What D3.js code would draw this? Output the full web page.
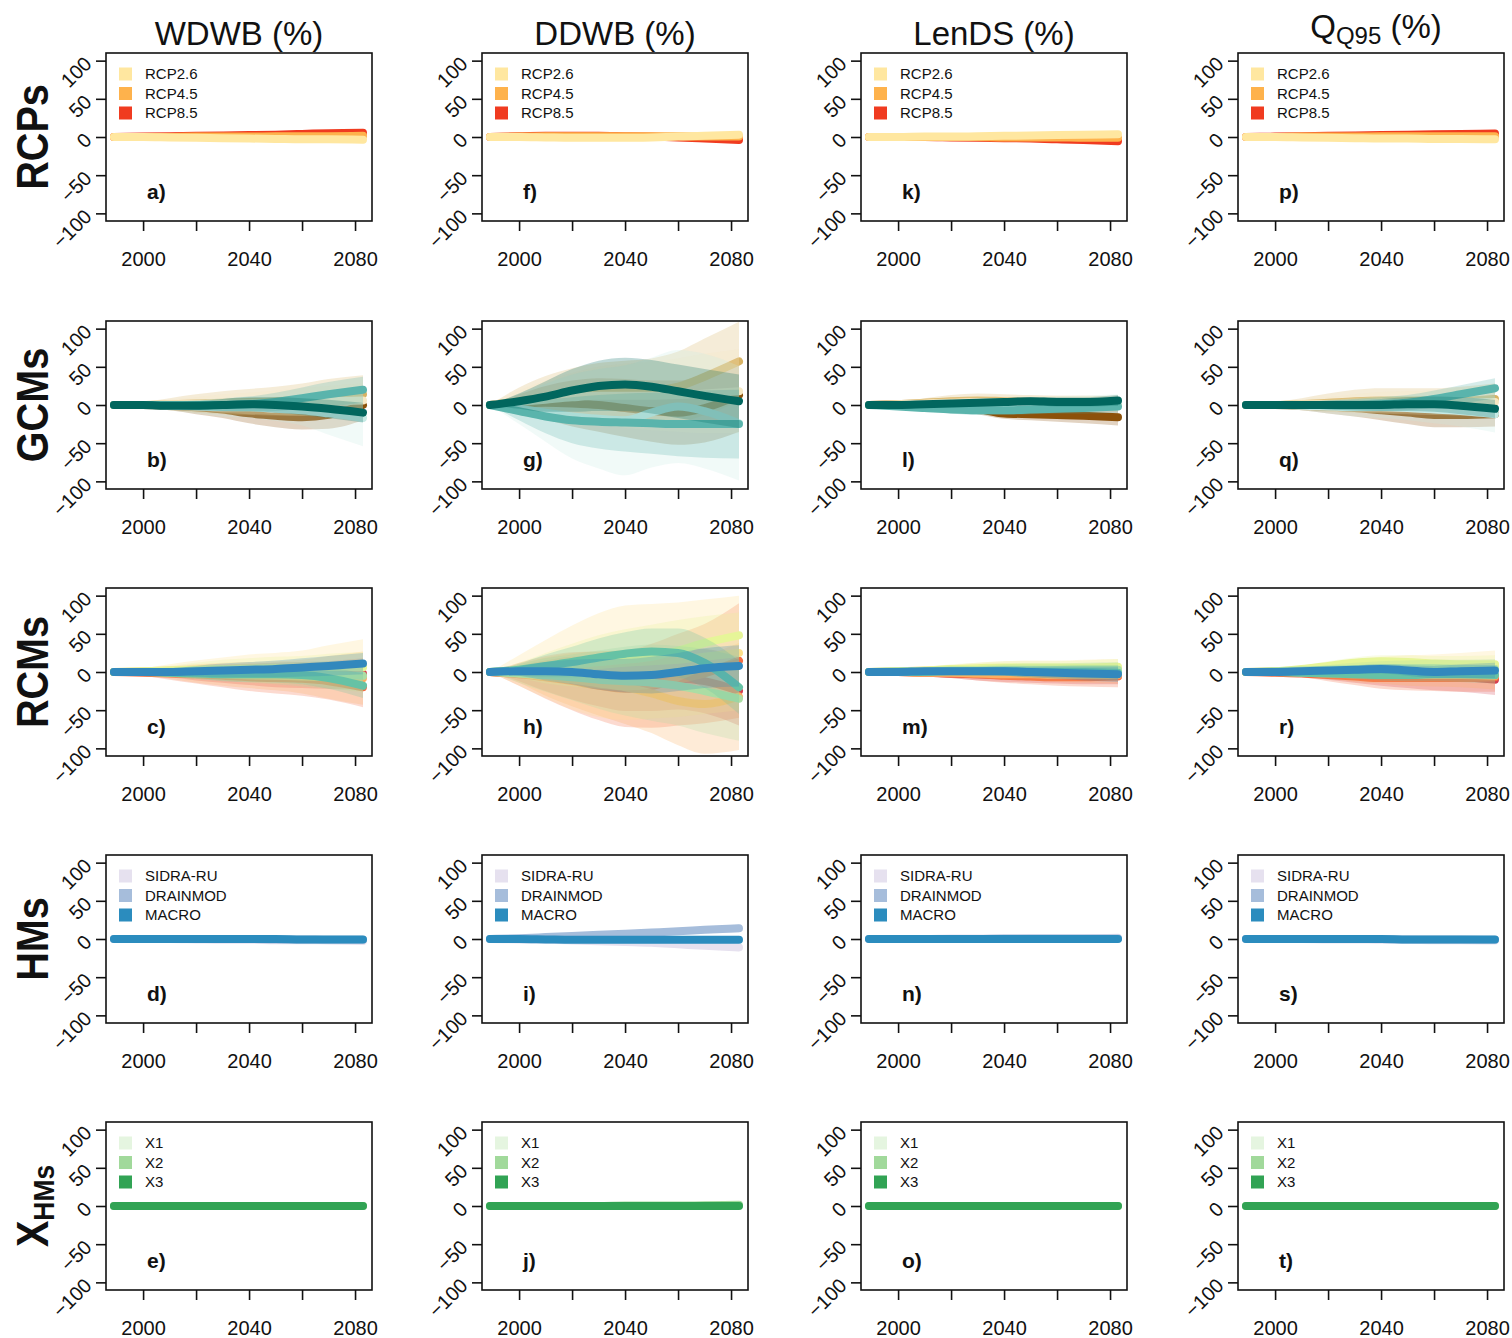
<!DOCTYPE html>
<html><head><meta charset="utf-8">
<script src="https://cdn.jsdelivr.net/npm/d3@7"></script>
<style>
body{margin:0;background:#fff}
svg{display:block}
text{font-family:"Liberation Sans",Arial,Helvetica,sans-serif;fill:#111}
</style>
</head><body>
<svg id="c" width="1512" height="1338"></svg>
<script>
// ---------- shared axes / labels ----------
const years = [1989, 2000, 2010, 2020, 2030, 2040, 2050, 2060, 2070, 2083];
const xTicks = [2000, 2020, 2040, 2060, 2080];
const xLabels = [2000, 2040, 2080];
const yTicks = [-100, -50, 0, 50, 100];
const columnTitles = ["WDWB (%)", "DDWB (%)", "LenDS (%)", "Q_Q95 (%)"];
const rowLabels = ["RCPs", "GCMs", "RCMs", "HMs", "X_HMs"];
const panelLetters = [["a)","f)","k)","p)"],["b)","g)","l)","q)"],["c)","h)","m)","r)"],["d)","i)","n)","s)"],["e)","j)","o)","t)"]];

// ---------- series names / colours ----------
const rcpNames = ["RCP2.6", "RCP4.5", "RCP8.5"];
const rcpColors = ["#FFE7A0", "#FEB24C", "#F03B20"];
const gcmColors = ["#8C510A", "#D8B365", "#F6E8C3", "#C7EAE5", "#5AB4AC", "#01665E"];
const rcmColors = ["#D53E4F", "#F46D43", "#FDAE61", "#FEE08B", "#E6F598", "#ABDDA4", "#66C2A5", "#3288BD"];
const hmNames = ["SIDRA-RU", "DRAINMOD", "MACRO"];
const hmColors = ["#E6E1EF", "#A6BDDB", "#2B8CBE"];
const xhmNames = ["X1", "X2", "X3"];
const xhmColors = ["#E5F5E0", "#A1D99B", "#31A354"];

// ---------- RCPs row (a, f, k, p) ----------
const a_mean = [[0,0,-0.5,-1,-1.5,-2,-2.5,-3,-3,-3.5],[0,0,0,0.5,0.5,0.5,1,1,1,1.5],[0,0.5,1,1.5,2,2.5,3,4,5,5.5]];
const a_spread = [[0,0.5,1,1,1.5,1.5,2,2,2.5,3],[0,0.5,1,1,1.5,1.5,2,2,2.5,3],[0,0.5,1,1.5,1.5,2,2,2.5,3,3]];
const f_mean = [[0,0,-0.5,-1,-1,-1,-0.5,0.5,1.5,3],[0,0.5,1,1,1,1,1,1,0.5,0.5],[0,1,1.5,1.5,1.5,1,0.5,-0.5,-2,-4]];
const f_spread = [[0,0.5,1,1,1.5,1.5,2,2,2.5,3],[0,0.5,1,1,1.5,1.5,2,2,2.5,3],[0,0.5,1,1.5,1.5,2,2,2.5,3,3]];
const k_mean = [[0,0,0.5,0.5,1,1.5,2,2.5,3,3.5],[0,0,0,0,0,-0.5,-0.5,-0.5,-1,-1],[0,0,0,-0.5,-1,-1.5,-2,-3,-4,-5.5]];
const k_spread = [[0,0.5,1,1,1.5,1.5,2,2,2.5,3],[0,0.5,1,1,1.5,1.5,2,2,2.5,3],[0,0.5,1,1.5,1.5,2,2,2.5,3,3]];
const p_mean = [[0,0,-0.5,-1,-1.5,-2,-2,-2.5,-2.5,-3],[0,0,0.5,0.5,0.5,1,1,1,1,1],[0,0.5,1,1.5,2,2.5,3,3.5,4,4.5]];
const p_spread = [[0,0.5,1,1,1.5,1.5,2,2,2.5,3],[0,0.5,1,1,1.5,1.5,2,2,2.5,3],[0,0.5,1,1.5,1.5,2,2,2.5,3,3]];

// ---------- GCMs row (b, g, l, q) ----------
const b_mean = [[0,0,-1,-3,-6,-11,-14,-16,-13,0],[0,0,1,2,3,4,5,7,10,14],[0,0,1,1,2,2,3,4,5,6],[0,0,-1,-2,-3,-3,-5,-7,-11,-17],[0,0,0,0,0,1,4,9,14,20],[0,0,-1,-1,0,1,0,-2,-5,-10]];
const b_spread = [[0,3,6,9,11,13,15,16,18,20],[0,4,8,12,15,17,19,21,24,25],[0,3,6,9,12,14,16,18,20,22],[0,3,6,9,12,14,16,20,28,37],[0,2,4,6,8,10,12,14,16,17],[0,2,4,6,8,9,10,11,12,13]];
const g_mean = [[0,2,3,2,0,-4,-8,-10,-4,13],[0,5,10,14,17,18,19,24,37,57],[0,4,7,10,12,12,12,13,15,18],[0,-5,-10,-15,-18,-20,-10,-2,-8,-24],[0,-8,-15,-20,-22,-23,-24,-25,-25,-25],[0,5,11,19,25,27,24,18,12,5]];
const g_spread = [[0,12,22,30,35,38,40,42,45,48],[0,18,28,34,38,40,42,46,50,52],[0,15,25,32,38,42,45,48,52,55],[0,20,38,55,65,72,72,74,75,75],[0,12,22,30,35,38,40,42,44,45],[0,10,20,28,33,35,35,35,35,35]];
const l_mean = [[0,1,1,0,-5,-11,-12,-13,-14,-16],[0,1,3,5,6,5,4,3,3,2],[0,1,2,3,4,4,4,3,3,3],[0,-1,-2,-3,-3,-2,0,2,3,4],[0,-2,-4,-6,-7,-7,-6,-5,-4,-2],[0,0,1,2,3,4,5,4,4,6]];
const l_spread = [[0,3,5,6,7,7,8,9,10,11],[0,3,6,8,9,9,9,9,9,9],[0,3,5,7,8,8,8,9,9,10],[0,2,4,6,7,8,8,9,9,10],[0,2,4,5,6,6,6,6,7,8],[0,2,3,4,5,5,5,6,6,7]];
const q_mean = [[0,0,-1,-2,-4,-7,-10,-13,-13,-12],[0,0,1,3,5,6,6,6,6,8],[0,0,1,1,2,3,3,3,4,4],[0,0,-1,-2,-3,-3,-4,-6,-8,-12],[0,0,0,0,0,1,3,8,14,22],[0,0,0,0,0,0,1,1,-1,-5]];
const q_spread = [[0,3,6,9,11,13,15,16,16,16],[0,4,8,12,15,16,16,16,18,20],[0,3,6,9,12,14,15,16,18,20],[0,3,6,9,12,14,16,18,20,24],[0,2,4,6,8,9,10,11,12,13],[0,2,4,6,7,8,9,10,11,12]];

// ---------- RCMs row (c, h, m, r) ----------
const c_mean = [[0,0,-1,-2,-3,-4,-5,-5,-4,-2],[0,-1,-2,-3,-5,-7,-8,-9,-12,-20],[0,0,-1,-2,-3,-4,-5,-6,-7,-8],[0,1,2,3,4,5,5,6,7,8],[0,1,2,3,4,4,5,5,6,6],[0,0,0,-1,-1,-2,-2,-3,-4,-5],[0,0,-1,-2,-3,-3,-3,-4,-8,-18],[0,0,0,1,2,3,4,6,8,11]];
const c_spread = [[0,3,6,9,11,13,15,16,18,20],[0,4,8,12,15,18,20,22,24,26],[0,4,8,12,15,17,19,22,28,35],[0,4,8,12,15,18,20,22,28,35],[0,3,6,9,12,14,15,16,18,20],[0,3,6,8,10,12,14,16,18,20],[0,3,5,7,9,10,11,12,14,16],[0,3,5,7,9,10,11,12,13,14]];
const h_mean = [[0,-2,-5,-8,-12,-15,-13,-9,-12,-25],[0,-3,-7,-12,-18,-22,-18,-10,-2,15],[0,-2,-6,-10,-15,-20,-28,-38,-42,-32],[0,2,4,6,9,12,14,16,20,25],[0,2,5,9,13,16,20,28,38,48],[0,-2,-4,-7,-10,-12,-14,-18,-25,-35],[0,3,8,13,19,24,27,25,12,-20],[0,1,1,0,-3,-5,-4,0,5,8]];
const h_spread = [[0,10,20,28,33,36,38,40,42,45],[0,15,28,38,45,50,55,60,65,75],[0,12,25,35,42,48,52,58,65,70],[0,20,38,55,68,75,75,75,75,75],[0,10,20,28,35,40,42,40,35,30],[0,12,22,30,38,45,50,52,55,55],[0,8,15,20,25,28,30,32,33,35],[0,6,12,16,20,22,24,25,26,27]];
const m_mean = [[0,0,-1,-2,-3,-4,-4,-4,-4,-3],[0,0,-1,-2,-3,-5,-6,-7,-7,-6],[0,0,-1,-1,-2,-3,-3,-4,-4,-4],[0,1,2,3,4,5,5,5,5,5],[0,1,2,4,5,6,6,6,6,7],[0,1,1,2,2,3,3,3,3,3],[0,0,0,1,1,1,0,0,0,-1],[0,0,1,1,1,1,0,-1,-2,-3]];
const m_spread = [[0,2,4,6,8,9,10,11,12,13],[0,2,4,6,8,9,10,11,12,14],[0,2,4,5,6,7,8,9,10,11],[0,2,4,6,8,9,10,10,11,12],[0,2,4,6,7,8,8,8,9,10],[0,2,3,5,6,7,8,8,9,10],[0,2,3,4,5,6,7,8,9,10],[0,2,3,4,5,6,7,8,9,10]];
const r_mean = [[0,0,-1,-2,-3,-4,-5,-6,-7,-10],[0,-1,-2,-4,-6,-8,-8,-8,-8,-7],[0,0,-1,-2,-3,-3,-4,-4,-4,-5],[0,1,2,4,6,7,7,7,8,9],[0,1,4,8,12,14,13,11,10,10],[0,1,2,3,4,5,5,5,4,4],[0,0,-1,-2,-3,-4,-4,-3,-3,-4],[0,0,1,2,3,4,2,0,1,2]];
const r_spread = [[0,2,5,8,11,14,16,18,19,20],[0,2,5,8,11,14,16,17,18,19],[0,2,4,7,10,12,14,15,16,18],[0,2,5,8,11,13,15,16,17,19],[0,2,4,6,7,8,9,10,11,12],[0,2,4,6,8,9,10,11,12,13],[0,2,3,5,6,7,8,9,10,11],[0,2,3,4,5,6,7,8,9,10]];

// ---------- HMs row (d, i, n, s) ----------
const d_mean = [[0,0,0,-0.5,-1,-1,-1.5,-1.5,-2,-2.5],[0,0,0,0,0,0,-0.5,-0.5,-1,-1],[0,0,0,0,0,0,0,-0.5,-0.5,-0.5]];
const d_spread = [[0,0.5,1,1,1.5,1.5,2,2,2.5,3],[0,0.5,1,1,1.5,1.5,2,2,2.5,3],[0,0.5,0.5,1,1,1,1.5,1.5,1.5,2]];
const i_mean = [[0,-0.5,-1,-2,-3,-4,-5,-7,-9,-11],[0,1,2.5,4,5.5,7,8.5,10,12,14],[0,0,-0.5,-1,-1,-1,-1,-1,-1,-1]];
const i_spread = [[0,1,1.5,2,2.5,3,3.5,4,4.5,5],[0,1,1.5,2,2.5,3,3.5,4,4.5,5],[0,0.5,1,1,1.5,1.5,2,2,2,2.5]];
const n_mean = [[0,0,0,0.5,0.5,0.5,1,1,1,1.5],[0,0,0,0,0,0.5,0.5,0.5,0.5,0.5],[0,0,0,0,0,0,0,0,0,0]];
const n_spread = [[0,0.5,1,1,1.5,1.5,2,2,2.5,3],[0,0.5,1,1,1.5,1.5,2,2,2.5,3],[0,0.5,0.5,1,1,1,1.5,1.5,1.5,2]];
const s_mean = [[0,0,0,-0.5,-0.5,-1,-1,-1.5,-1.5,-2],[0,0,0,0,0,0,-0.5,-0.5,-0.5,-1],[0,0,0,0,0,0,-0.5,-0.5,-0.5,-0.5]];
const s_spread = [[0,0.5,1,1,1.5,1.5,2,2,2.5,3],[0,0.5,1,1,1.5,1.5,2,2,2.5,3],[0,0.5,0.5,1,1,1,1.5,1.5,1.5,2]];

// ---------- X_HMs row (e, j, o, t) ----------
const e_mean = [[0,0,0,0,0,0,0,0,0,0],[0,0,0,0,0,0,0,0,0,0],[0,0,0,0,0,0,0,0,0,0]];
const e_spread = [[0,0.3,0.5,0.5,0.5,0.5,0.5,0.5,0.5,0.5],[0,0.3,0.5,0.5,0.5,0.5,0.5,0.5,0.5,0.5],[0,0.3,0.5,0.5,0.5,0.5,0.5,0.5,0.5,0.5]];
const j_mean = [[0,0,0,0,0,0,0,0,0.5,0.5],[0,0,0,0,0,0.5,0.5,0.5,1,1.5],[0,0,0,0,0,0,0,0,0,0]];
const j_spread = [[0,0.3,0.5,0.5,0.5,0.8,0.8,1,1,1.5],[0,0.3,0.5,0.5,0.5,0.8,0.8,1,1,1.5],[0,0.3,0.5,0.5,0.5,0.5,0.5,0.5,0.5,0.5]];
const o_mean = [[0,0,0,0,0,0,0,0,0,0],[0,0,0,0,0,0,0,0,0,0],[0,0,0,0,0,0,0,0,0,0]];
const o_spread = [[0,0.3,0.5,0.5,0.5,0.5,0.5,0.5,0.5,0.5],[0,0.3,0.5,0.5,0.5,0.5,0.5,0.5,0.5,0.5],[0,0.3,0.5,0.5,0.5,0.5,0.5,0.5,0.5,0.5]];
const t_mean = [[0,0,0,0,0,0,0,0,0,0],[0,0,0,0,0,0,0,0,0,0],[0,0,0,0,0,0,0,0,0,0]];
const t_spread = [[0,0.3,0.5,0.5,0.5,0.5,0.5,0.5,0.5,0.5],[0,0.3,0.5,0.5,0.5,0.5,0.5,0.5,0.5,0.5],[0,0.3,0.5,0.5,0.5,0.5,0.5,0.5,0.5,0.5]];

// ---------- assemble ----------
const panelMeans = [[a_mean,f_mean,k_mean,p_mean],[b_mean,g_mean,l_mean,q_mean],[c_mean,h_mean,m_mean,r_mean],[d_mean,i_mean,n_mean,s_mean],[e_mean,j_mean,o_mean,t_mean]];
const panelSpreads = [[a_spread,f_spread,k_spread,p_spread],[b_spread,g_spread,l_spread,q_spread],[c_spread,h_spread,m_spread,r_spread],[d_spread,i_spread,n_spread,s_spread],[e_spread,j_spread,o_spread,t_spread]];
const rowColors = [rcpColors, gcmColors, rcmColors, hmColors, xhmColors];
const rowLegend = [rcpNames, null, null, hmNames, xhmNames];

const colLefts = [106, 482, 861, 1238];
const rowTops = [53, 321, 588, 855, 1122];
const PW = 266, PH = 168;

const svg = d3.select("#c");
const x = d3.scaleLinear().domain([1986, 2086.4]).range([0, PW]);
const y = d3.scaleLinear().domain([-110, 110]).range([PH, 0]);

const area = d3.area().x(d => x(d.yr)).y0(d => y(d.m - d.s)).y1(d => y(d.m + d.s)).curve(d3.curveMonotoneX);
const line = d3.line().x(d => x(d.yr)).y(d => y(d.m)).curve(d3.curveMonotoneX);
const FONT = '"Liberation Sans",Arial,sans-serif';

rowLabels.forEach((rl, ri) => {
  columnTitles.forEach((ct, ci) => {
    const g = svg.append("g").attr("transform", `translate(${colLefts[ci]},${rowTops[ri]})`);
    const clipId = `clip-${ri}-${ci}`;
    g.append("clipPath").attr("id", clipId).append("rect").attr("width", PW).attr("height", PH);
    const plot = g.append("g").attr("clip-path", `url(#${clipId})`);
    const means = panelMeans[ri][ci], spreads = panelSpreads[ri][ci];
    const order = d3.range(means.length);
    if (ri === 0) order.reverse();
    order.forEach(si => {
      const col = rowColors[ri][si];
      const pts = years.map((yr, k) => ({ yr, m: means[si][k], s: spreads[si][k] }));
      plot.append("path").datum(pts).attr("d", area).attr("fill", col).attr("fill-opacity", 0.25);
      plot.append("path").datum(pts).attr("d", line).attr("fill", "none").attr("stroke", col)
        .attr("stroke-width", 8).attr("stroke-linecap", "round").attr("stroke-linejoin", "round");
    });

    // x axis
    const xa = g.append("g").attr("transform", `translate(0,${PH})`)
      .call(d3.axisBottom(x).tickValues(xTicks).tickSize(10).tickPadding(21)
        .tickFormat(d => xLabels.includes(d) ? String(d) : ""));
    xa.select(".domain").remove();
    xa.selectAll("line").attr("stroke", "#111").attr("stroke-width", 1.6);
    xa.selectAll("text").attr("font-size", 20).attr("fill", "#111").style("font-family", FONT);

    // y axis
    const ya = g.append("g")
      .call(d3.axisLeft(y).tickValues(yTicks).tickSize(10));
    ya.select(".domain").remove();
    ya.selectAll("line").attr("stroke", "#111").attr("stroke-width", 1.6);
    ya.selectAll("text").attr("x", null).attr("dy", null)
      .attr("transform", "translate(-18,-1) rotate(-45)")
      .attr("text-anchor", "end").attr("dominant-baseline", "central")
      .attr("font-size", 20).attr("fill", "#111").style("font-family", FONT);

    // box
    g.append("rect").attr("width", PW).attr("height", PH).attr("fill", "none")
      .attr("stroke", "#111").attr("stroke-width", 1.6);

    // panel letter
    g.append("text").attr("x", 41).attr("y", 146).attr("font-size", 21).attr("font-weight", "bold")
      .text(panelLetters[ri][ci]);

    // legend
    const names = rowLegend[ri];
    if (names) {
      names.forEach((nm, li) => {
        const cy = 21 + li * 19.5;
        g.append("rect").attr("x", 13).attr("y", cy - 6.5).attr("width", 13).attr("height", 13)
          .attr("fill", rowColors[ri][li]);
        g.append("text").attr("x", 39).attr("y", cy).attr("dy", "0.36em").attr("font-size", 15).text(nm);
      });
    }
  });
});

// column titles
columnTitles.forEach((ct, ci) => {
  const cx = colLefts[ci] + PW / 2;
  if (ct.startsWith("Q_")) {
    const t = svg.append("text").attr("x", cx + 5).attr("y", 38).attr("text-anchor", "middle").attr("font-size", 33);
    t.append("tspan").text("Q");
    t.append("tspan").attr("font-size", 24).attr("dy", 6).text("Q95");
    t.append("tspan").attr("dy", -6).text(" (%)");
  } else {
    svg.append("text").attr("x", cx).attr("y", 45).attr("text-anchor", "middle").attr("font-size", 33).text(ct);
  }
});

// row labels
rowLabels.forEach((rl, ri) => {
  const cy = rowTops[ri] + PH / 2;
  const t = svg.append("text").attr("transform", `translate(48,${cy}) rotate(-90) scale(0.88,1)`)
    .attr("text-anchor", "middle").attr("font-size", 45).attr("font-weight", "bold");
  if (rl.startsWith("X_")) {
    t.append("tspan").text("X");
    t.append("tspan").attr("font-size", 30).attr("dy", 6).text("HMs");
  } else {
    t.text(rl);
  }
});
</script>
</body></html>
